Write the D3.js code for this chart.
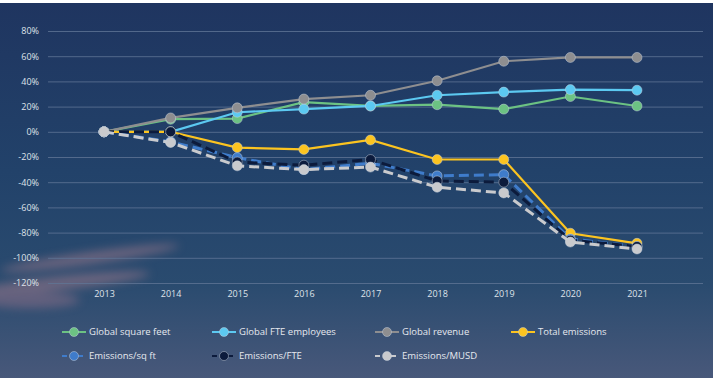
<!DOCTYPE html>
<html>
<head>
<meta charset="utf-8">
<script src="https://cdn.jsdelivr.net/npm/d3@7"></script>
<style>
  body { margin: 0; background: #fff; }
  svg { display: block; }
</style>
</head>
<body>
<div id="chart"></div>
<script>
// years and tick labels
const years = [2013, 2014, 2015, 2016, 2017, 2018, 2019, 2020, 2021];
const yTicks = [80, 60, 40, 20, 0, -20, -40, -60, -80, -100, -120];

// series values (% change vs 2013)
const globalSquareFeet = [0, 10, 10.5, 23.5, 20.5, 21.5, 18, 28, 20.5];
const globalFteEmployees = [0, 0, 15.5, 18, 20.5, 29, 31.5, 33.5, 33];
const globalRevenue = [0, 11, 19, 26, 29, 40.5, 56, 59, 59];
const totalEmissions = [0, 0, -12.5, -14, -6.5, -22, -22, -80.5, -88.5];
const emissionsPerSqFt = [0, -8, -20.5, -30, -25, -35, -34, -85, -91];
const emissionsPerFte = [0, 0, -24, -26.5, -22, -39, -40, -86, -91];
const emissionsPerMusd = [0, -8.5, -27, -30, -28, -44, -48.5, -87.5, -93];

const series = [
  { name: "Global square feet", values: globalSquareFeet, color: "#6cc283", dash: null },
  { name: "Global FTE employees", values: globalFteEmployees, color: "#5cc9f1", dash: null },
  { name: "Global revenue", values: globalRevenue, color: "#8e8e90", dash: null },
  { name: "Total emissions", values: totalEmissions, color: "#fcc420", dash: null },
  { name: "Emissions/sq ft", values: emissionsPerSqFt, color: "#3f7ccb", dash: "10,5" },
  { name: "Emissions/FTE", values: emissionsPerFte, color: "#0c1b3c", dash: "10,5" },
  { name: "Emissions/MUSD", values: emissionsPerMusd, color: "#c9cacd", dash: "10,5" }
];

const width = 718, height = 381;
const font = "'Open Sans', sans-serif";

const svg = d3.select("#chart")
  .append("svg")
  .attr("width", width)
  .attr("height", height);

const defs = svg.append("defs");
const grad = defs.append("linearGradient")
  .attr("id", "bg").attr("x1", 0).attr("y1", 0).attr("x2", 0).attr("y2", 1);
grad.append("stop").attr("offset", "0%").attr("stop-color", "#1f3560");
grad.append("stop").attr("offset", "45%").attr("stop-color", "#22426a");
grad.append("stop").attr("offset", "75%").attr("stop-color", "#2a4b6f");
grad.append("stop").attr("offset", "100%").attr("stop-color", "#48587a");

const blur = defs.append("filter").attr("id", "blur")
  .attr("x", "-50%").attr("y", "-50%").attr("width", "200%").attr("height", "200%");
blur.append("feGaussianBlur").attr("stdDeviation", 5);

// background panel
svg.append("rect")
  .attr("x", 0).attr("y", 3)
  .attr("width", 713).attr("height", 375)
  .attr("fill", "url(#bg)");

// pinkish haze lower left
const haze = svg.append("g").attr("filter", "url(#blur)").attr("opacity", 0.55);
haze.append("ellipse").attr("cx", 90).attr("cy", 258).attr("rx", 90).attr("ry", 6)
  .attr("fill", "#a07a8c").attr("transform", "rotate(-8,90,258)");
haze.append("ellipse").attr("cx", 60).attr("cy", 283).attr("rx", 90).attr("ry", 7)
  .attr("fill", "#a07a8c").attr("transform", "rotate(-6,60,283)");
haze.append("ellipse").attr("cx", 30).attr("cy", 300).attr("rx", 50).attr("ry", 8)
  .attr("fill", "#8c7088");

// scales
const x = d3.scaleLinear().domain([2013, 2021]).range([104, 637]);
const y = d3.scaleLinear().domain([-120, 80]).range([283, 31]);

// gridlines + y labels
const yAxis = d3.axisLeft(y)
  .tickValues(yTicks)
  .tickSize(-655)
  .tickPadding(9)
  .tickFormat(d => d + "%");
const gy = svg.append("g")
  .attr("transform", "translate(48,0)")
  .call(yAxis);
gy.select(".domain").remove();
gy.selectAll(".tick line")
  .attr("stroke", "#5f7596")
  .attr("stroke-width", 0.8);
gy.selectAll(".tick text")
  .attr("fill", "#dfe3ea")
  .attr("font-family", font)
  .attr("font-size", 9);

// x labels
const xAxis = d3.axisBottom(x)
  .tickValues(years)
  .tickSize(0)
  .tickPadding(8)
  .tickFormat(d3.format("d"));
const gx = svg.append("g")
  .attr("transform", "translate(0,283)")
  .call(xAxis);
gx.select(".domain").remove();
gx.selectAll(".tick text")
  .attr("fill", "#dfe3ea")
  .attr("font-family", font)
  .attr("font-size", 9);

// lines and markers
const line = d3.line()
  .x((d, i) => x(years[i]))
  .y(d => y(d));

series.forEach(s => {
  const g = svg.append("g");
  g.append("path")
    .datum(s.values)
    .attr("fill", "none")
    .attr("stroke", s.color)
    .attr("stroke-width", s.dash ? 3 : 2.2)
    .attr("stroke-dasharray", s.dash)
    .attr("d", line);
  g.selectAll("circle")
    .data(s.values)
    .join("circle")
    .attr("cx", (d, i) => x(years[i]))
    .attr("cy", d => y(d))
    .attr("r", 5)
    .attr("fill", s.color)
    .attr("stroke", "#c9d2e0")
    .attr("stroke-opacity", 0.6)
    .attr("stroke-width", 0.8);
});

// legend
const legendX = [62, 212, 375, 511];
const legendY = [332, 356];
const legend = svg.append("g");
series.forEach((s, i) => {
  const lx = legendX[i % 4];
  const ly = legendY[Math.floor(i / 4)];
  const item = legend.append("g").attr("transform", `translate(${lx},${ly})`);
  item.append("line")
    .attr("x1", 0).attr("x2", 24)
    .attr("stroke", s.color)
    .attr("stroke-width", 2)
    .attr("stroke-dasharray", s.dash ? "5,3" : null);
  item.append("circle")
    .attr("cx", 12).attr("r", 4.5)
    .attr("fill", s.color)
    .attr("stroke", "#c9d2e0")
    .attr("stroke-opacity", 0.6)
    .attr("stroke-width", 0.8);
  item.append("text")
    .attr("x", 27)
    .attr("dy", "0.35em")
    .attr("fill", "#e6e9ef")
    .attr("font-family", font)
    .attr("font-size", 9.5)
    .text(s.name);
});
</script>
</body>
</html>
